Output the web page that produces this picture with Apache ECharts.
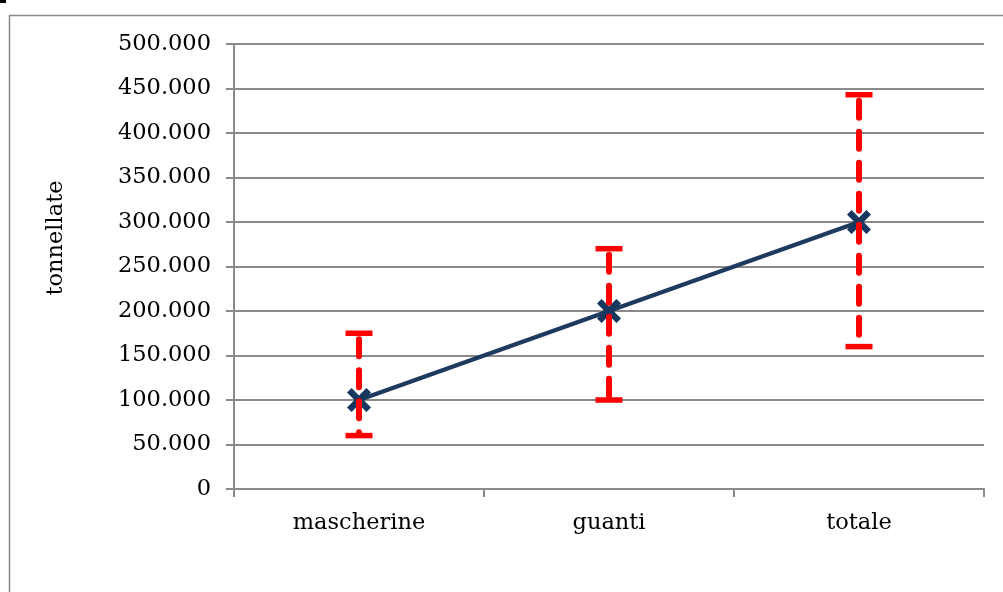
<!DOCTYPE html>
<html><head><meta charset="utf-8">
<script src="https://cdn.jsdelivr.net/npm/echarts@6/dist/echarts.min.js"></script>
<style>html,body{margin:0;padding:0;background:#fff}#c{width:1003px;height:592px}</style>
</head><body><div id="c"></div>
<script>
const categories = ['mascherine', 'guanti', 'totale'];
const values = [100000, 200000, 300000];
const errLow = [60000, 100000, 160000];
const errHigh = [175000, 270000, 443000];
const yTicks = [0, 50000, 100000, 150000, 200000, 250000, 300000, 350000, 400000, 450000, 500000];
const yTitle = 'tonnellate';

const FONT = 'DejaVu Serif';
const GRAY = '#8a8a8a';
function fmt(v){ if (v === 0) return '0'; return (v/1000) + '.000'; }

const chart = echarts.init(document.getElementById('c'), null, {renderer:'canvas'});
chart.setOption({
  animation: false,
  backgroundColor: '#fff',
  graphic: [
    {type:'rect', shape:{x:9.5, y:15.5, width:1200, height:800}, style:{fill:'none', stroke:GRAY, lineWidth:1.5}, z:-1},
    {type:'rect', shape:{x:0, y:0, width:6, height:3}, style:{fill:'#000'}},
    {type:'text', x:56, y:238, rotation:Math.PI/2,
     style:{text:yTitle, fill:'#000', font:'22.5px "DejaVu Serif"', align:'center', verticalAlign:'middle'}}
  ],
  grid: {left:234, right:19, top:44, bottom:103, containLabel:false},
  xAxis: {
    type:'category', data:categories, boundaryGap:true,
    axisLine:{lineStyle:{color:GRAY, width:2}},
    axisTick:{show:true, length:8, lineStyle:{color:GRAY, width:2}},
    axisLabel:{color:'#000', fontFamily:FONT, fontSize:22.5, margin:23},
    splitLine:{show:false}
  },
  yAxis: {
    type:'value', min:yTicks[0], max:yTicks[yTicks.length-1], interval:yTicks[1]-yTicks[0],
    axisLine:{show:true, lineStyle:{color:GRAY, width:2}},
    axisTick:{show:true, length:8, lineStyle:{color:GRAY, width:2}},
    axisLabel:{color:'#000', fontFamily:FONT, fontSize:22.5, margin:23, formatter:fmt},
    splitLine:{show:true, lineStyle:{color:GRAY, width:2}}
  },
  series: [
    {
      type:'line', data:values, z:3,
      symbol:'path://M0,1.9 L1.9,0 L5,3.1 L8.1,0 L10,1.9 L6.9,5 L10,8.1 L8.1,10 L5,6.9 L1.9,10 L0,8.1 L3.1,5 Z',
      symbolSize:24, showAllSymbol:true,
      itemStyle:{color:'#17375e'},
      lineStyle:{color:'#1f3a5f', width:4.5}
    },
    {
      type:'custom', z:5,
      data: categories.map((c,i)=>[i, errLow[i], errHigh[i]]),
      encode:{x:0, y:[1,2]},
      renderItem: function(params, api){
        const x = api.value(0);
        const lo = api.coord([x, api.value(1)]);
        const hi = api.coord([x, api.value(2)]);
        const half = 13.5;
        return {type:'group', children:[
          {type:'line', shape:{x1:hi[0], y1:hi[1]+6, x2:lo[0], y2:lo[1]-2},
           style:{stroke:'#ff0000', lineWidth:6, lineDash:[17,14], lineCap:'round'}},
          {type:'line', shape:{x1:hi[0]-half, y1:hi[1], x2:hi[0]+half, y2:hi[1]},
           style:{stroke:'#ff0000', lineWidth:5.5}},
          {type:'line', shape:{x1:lo[0]-half, y1:lo[1], x2:lo[0]+half, y2:lo[1]},
           style:{stroke:'#ff0000', lineWidth:5.5}}
        ]};
      }
    }
  ]
});
</script></body></html>
